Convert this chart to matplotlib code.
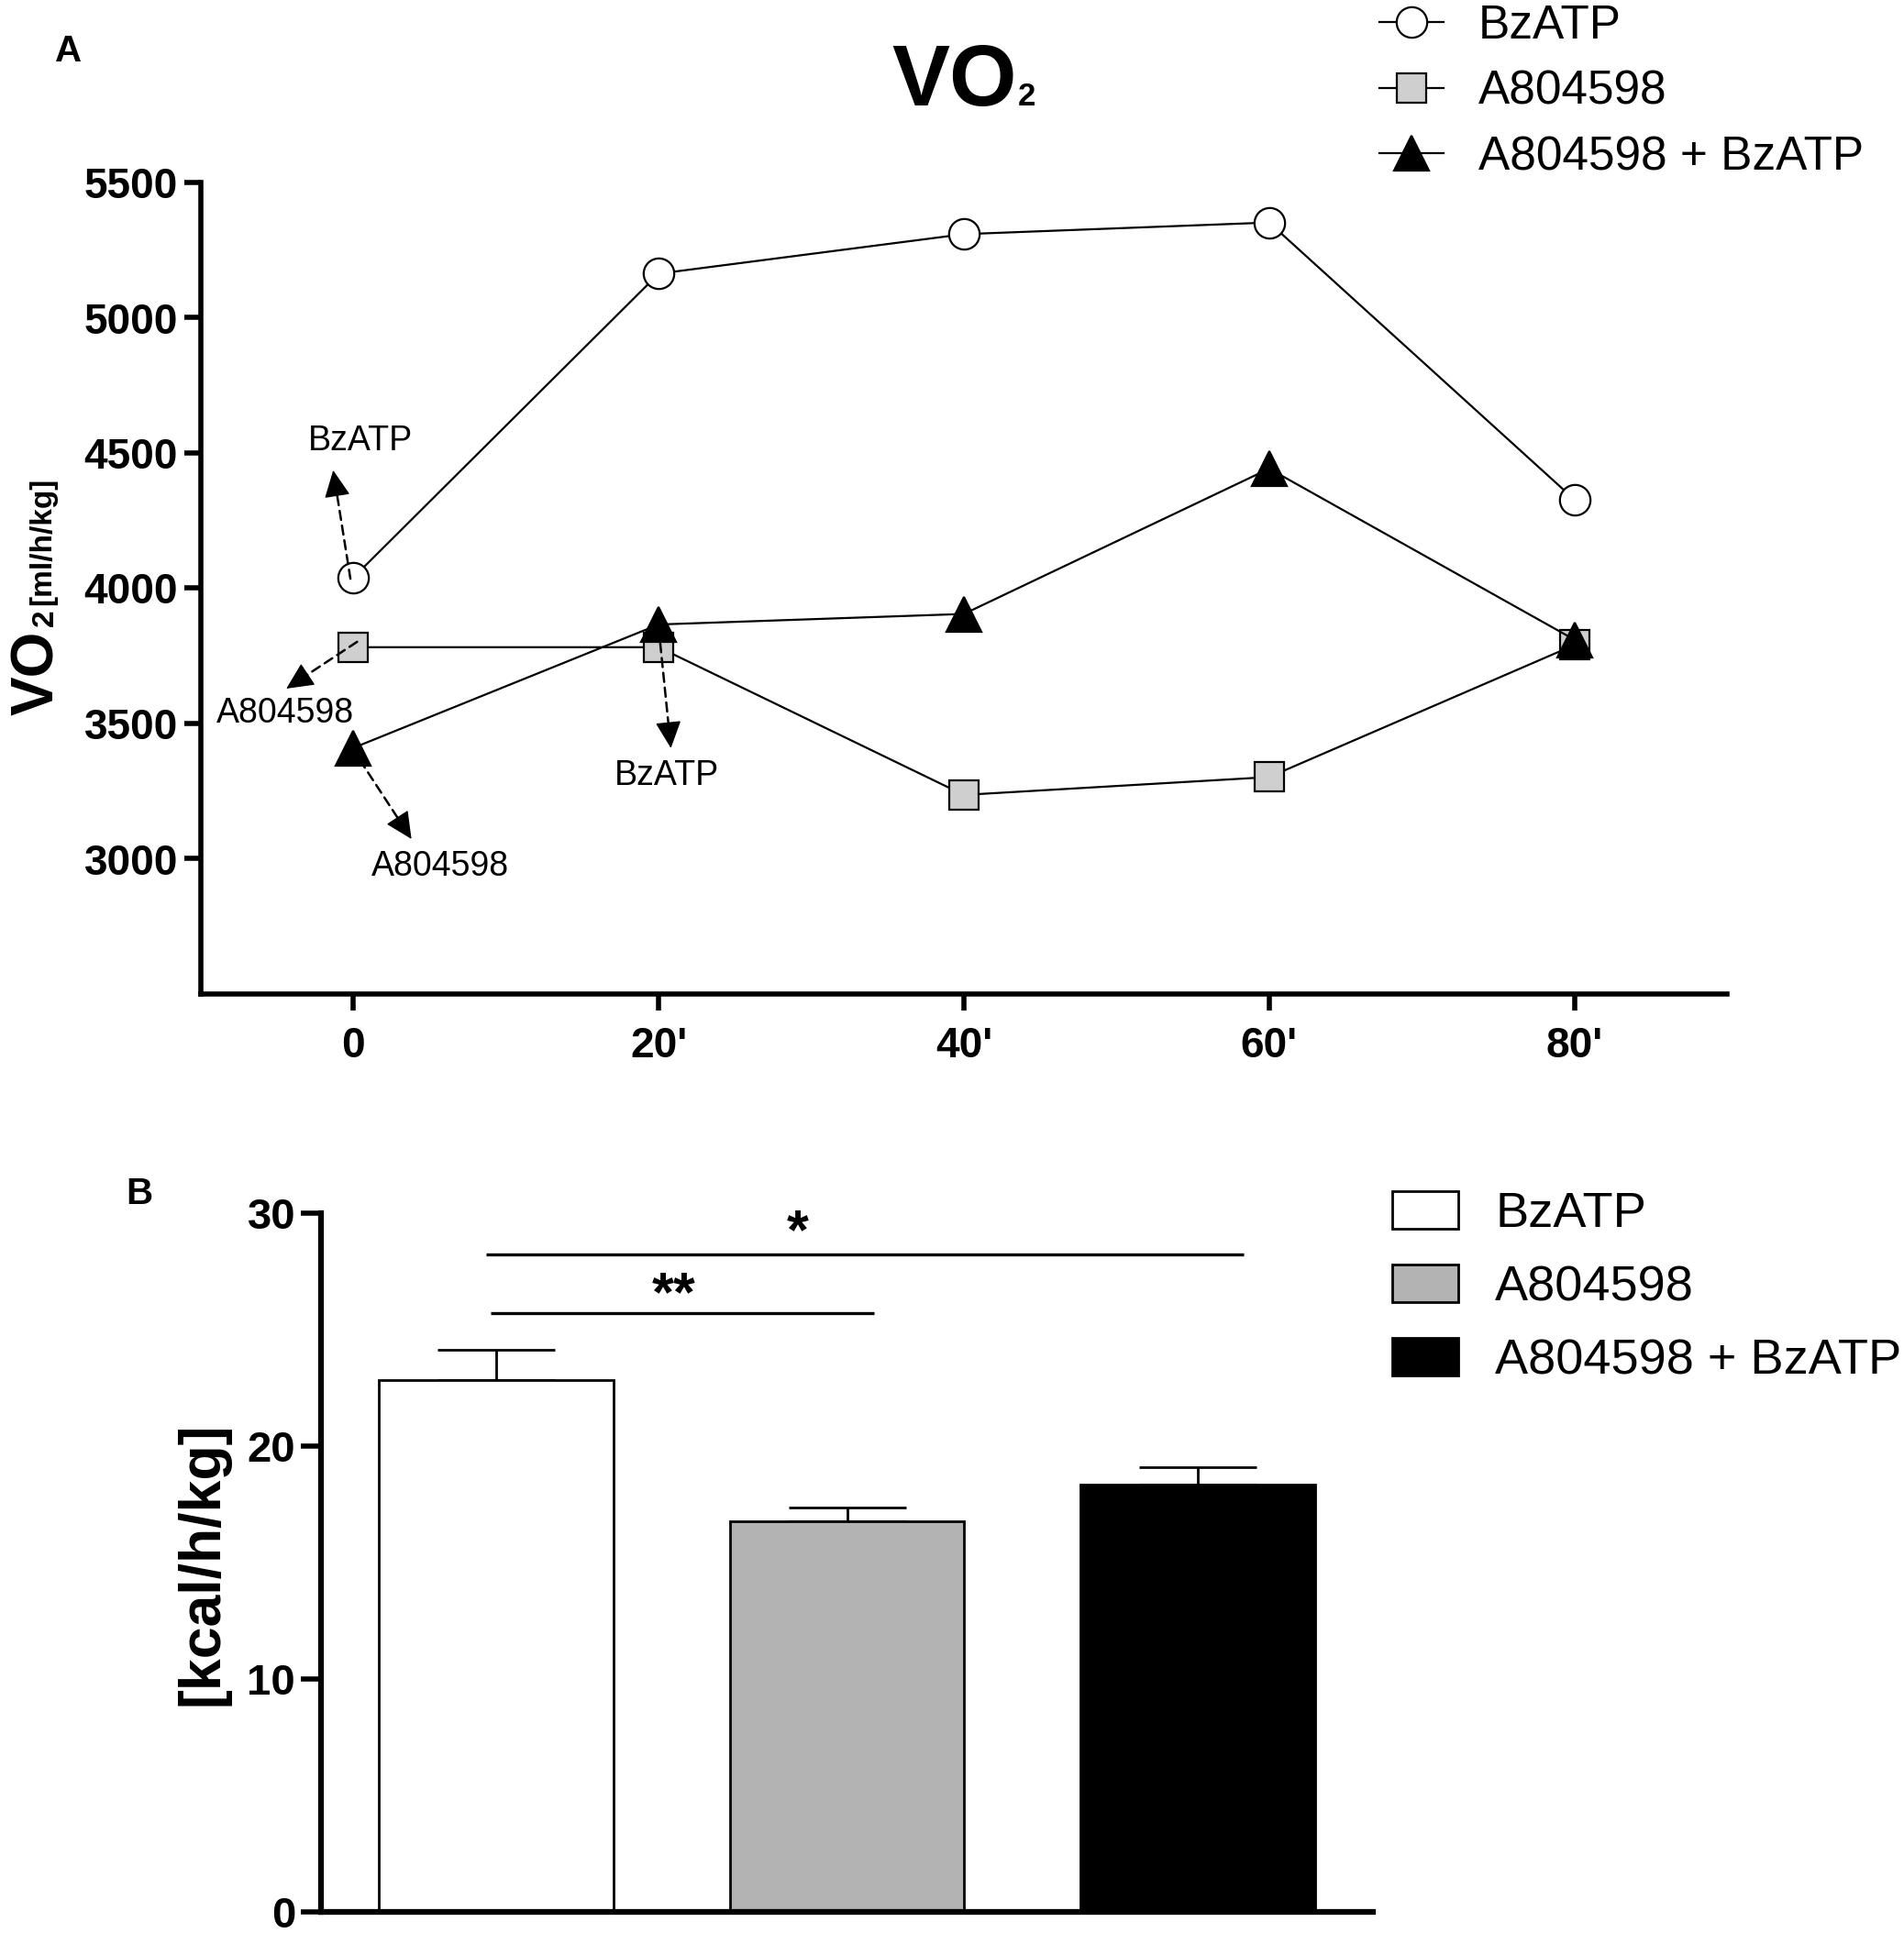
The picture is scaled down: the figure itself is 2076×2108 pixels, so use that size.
import matplotlib
matplotlib.use('Agg')
import matplotlib.pyplot as plt
from matplotlib.lines import Line2D
from matplotlib.patches import Patch
import numpy as np

plt.rcParams['font.family'] = ['Liberation Sans', 'DejaVu Sans']

# ---------------- data: panel A ----------------
time_points = [0, 20, 40, 60, 80]
time_labels = ["0", "20'", "40'", "60'", "80'"]
series_names = ["BzATP", "A804598", "A804598 + BzATP"]
vo2_bzatp = [4040, 5163, 5309, 5352, 4328]
vo2_a804598 = [3782, 3782, 3236, 3302, 3790]
vo2_combo = [3410, 3866, 3905, 4442, 3810]
yticks_a = [3000, 3500, 4000, 4500, 5000, 5500]

ann_labels = ["BzATP", "A804598", "BzATP", "A804598"]
ann_start_x = [-0.2, 0.24, 20.1, 0.42]
ann_start_y = [4035, 3802, 3797, 3365]
ann_end_x = [-1.33, -4.4, 20.8, 3.8]
ann_end_y = [4436, 3629, 3409, 3073]
ann_text_x = [0.48, -4.5, 20.5, 5.7]
ann_text_y = [4544, 3538, 3307, 2972]

# ---------------- data: panel B ----------------
bar_values = [22.83, 16.77, 18.36]
bar_errors = [1.30, 0.61, 0.75]
yticks_b = [0, 10, 20, 30]
sig_labels = ["*", "**"]
sig_x0 = [-0.03, -0.016]
sig_x1 = [2.13, 1.078]
sig_y = [28.23, 25.71]
sig_text_x = [0.86, 0.505]

W, H = 2076, 2108
fig = plt.figure(figsize=(W / 100, H / 100), dpi=100)

def fx(px):
    return px / W

def fy(py):
    return 1 - py / H

# ================= Panel A =================
axA = fig.add_axes([fx(219), fy(1084), fx(1883) - fx(219), fy(199) - fy(1084)])
axA.plot(time_points, vo2_bzatp, color='k', lw=1.6, marker='o', markersize=24,
         mfc='white', mec='k', mew=1.6, zorder=3)
axA.plot(time_points, vo2_a804598, color='k', lw=1.6, marker='s', markersize=23,
         mfc='#cfcfcf', mec='k', mew=1.6, zorder=4)
axA.plot(time_points, vo2_combo, color='k', lw=1.6, marker='^', markersize=27,
         mfc='black', mec='k', mew=1.6, zorder=5)

axA.set_xlim(-10, 90)
axA.set_ylim(2500, 5500)

HEAD_PX = 26.0
for i in range(len(ann_labels)):
    s = np.array([ann_start_x[i], ann_start_y[i]])
    e = np.array([ann_end_x[i], ann_end_y[i]])
    sp = axA.transData.transform(s)
    ep = axA.transData.transform(e)
    d = ep - sp
    L = np.hypot(*d)
    hp = ep - d / L * HEAD_PX
    h = axA.transData.inverted().transform(hp)
    # dashed shaft
    axA.annotate('', xy=tuple(h), xytext=tuple(s),
                 arrowprops=dict(arrowstyle='-', linestyle=(0, (4, 2.5)), lw=1.8,
                                 color='k', shrinkA=0, shrinkB=0), zorder=6)
    # solid filled head
    axA.annotate('', xy=tuple(e), xytext=tuple(h),
                 arrowprops=dict(arrowstyle='-|>,head_length=1.0,head_width=0.48',
                                 lw=1.0, color='k', shrinkA=0, shrinkB=0,
                                 mutation_scale=HEAD_PX / 1.39), zorder=6)
    axA.text(ann_text_x[i], ann_text_y[i], ann_labels[i], ha='center', va='center',
             fontsize=27, zorder=6)

axA.set_xticks(time_points)
axA.set_xticklabels(time_labels)
axA.set_yticks(yticks_a)
axA.set_yticklabels([str(v) for v in yticks_a])
for sname in ['top', 'right']:
    axA.spines[sname].set_visible(False)
for sname in ['left', 'bottom']:
    axA.spines[sname].set_linewidth(4)
axA.tick_params(axis='both', length=13, width=4, labelsize=33)
axA.tick_params(axis='y', pad=5)
axA.tick_params(axis='x', pad=12)
for lbl in axA.get_xticklabels() + axA.get_yticklabels():
    lbl.set_fontweight('bold')

handlesA = [
    Line2D([], [], color='k', lw=1.6, marker='o', markersize=24, mfc='white', mec='k', mew=1.6),
    Line2D([], [], color='k', lw=1.6, marker='s', markersize=23, mfc='#cfcfcf', mec='k', mew=1.6),
    Line2D([], [], color='k', lw=1.6, marker='^', markersize=27, mfc='black', mec='k', mew=1.6),
]
fig.legend(handlesA, series_names, loc='upper left', bbox_to_anchor=(fx(1504), fy(4)),
           bbox_transform=fig.transFigure, frameon=False, fontsize=37,
           handlelength=1.36, handletextpad=0.74, labelspacing=0.44,
           borderpad=0, borderaxespad=0, numpoints=1)

# title VO2
fig.text(fx(972), fy(115), 'VO', fontsize=68, fontweight='bold', ha='left', va='baseline')
fig.text(fx(1110), fy(115), '2', fontsize=25, fontweight='bold', ha='left', va='baseline')
# panel letter
fig.text(fx(60), fy(67), 'A', fontsize=29, fontweight='bold', ha='left', va='baseline')
# y label pieces (rotated)
fig.text(fx(58), fy(780), 'VO', fontsize=46, fontweight='bold', rotation=90,
         rotation_mode='anchor', ha='left', va='baseline')
fig.text(fx(58), fy(683), '2', fontsize=24, fontweight='bold', rotation=90,
         rotation_mode='anchor', ha='left', va='baseline')
fig.text(fx(55), fy(660), '[ml/h/kg]', fontsize=24, fontweight='bold', rotation=90,
         rotation_mode='anchor', ha='left', va='baseline')

# ================= Panel B =================
axB = fig.add_axes([fx(350), fy(2085), fx(1497) - fx(350), fy(1323) - fy(2085)])
bar_x = list(range(len(bar_values)))
bar_colors = ['white', '#b3b3b3', 'black']
axB.errorbar(bar_x, bar_values, yerr=[[0] * len(bar_errors), bar_errors], fmt='none',
             ecolor='k', elinewidth=2, capsize=46, capthick=2, zorder=1)
axB.bar(bar_x, bar_values, width=0.668, color=bar_colors, edgecolor='k', linewidth=2,
        zorder=2)
for i in range(len(sig_labels)):
    axB.plot([sig_x0[i], sig_x1[i]], [sig_y[i], sig_y[i]], color='k', lw=2.4,
             solid_capstyle='butt')
    axB.text(sig_text_x[i], sig_y[i] + (0.25 if i == 0 else 0.12), sig_labels[i],
             ha='center', va='baseline', fontsize=44, fontweight='bold')

axB.set_xlim(-0.5, 2.5)
axB.set_ylim(0, 30)
axB.set_xticks([])
axB.set_yticks(yticks_b)
axB.set_yticklabels([str(v) for v in yticks_b])
for sname in ['top', 'right']:
    axB.spines[sname].set_visible(False)
for sname in ['left', 'bottom']:
    axB.spines[sname].set_linewidth(4.5)
axB.tick_params(axis='y', length=16, width=4, labelsize=34, pad=4)
for lbl in axB.get_yticklabels():
    lbl.set_fontweight('bold')

fig.text(fx(237), fy(1705), '[kcal/h/kg]', fontsize=45, fontweight='bold', rotation=90,
         rotation_mode='anchor', ha='center', va='baseline')
fig.text(fx(137), fy(1313), 'B', fontsize=29, fontweight='bold', ha='left', va='baseline')

handlesB = [Patch(facecolor=c, edgecolor='k', linewidth=2) for c in bar_colors]
fig.legend(handlesB, series_names, loc='upper left', bbox_to_anchor=(fx(1518), fy(1299)),
           bbox_transform=fig.transFigure, frameon=False, fontsize=39,
           handlelength=1.33, handleheight=0.78, handletextpad=0.74, labelspacing=0.55,
           borderpad=0, borderaxespad=0)

fig.savefig('out.png', dpi=100)
